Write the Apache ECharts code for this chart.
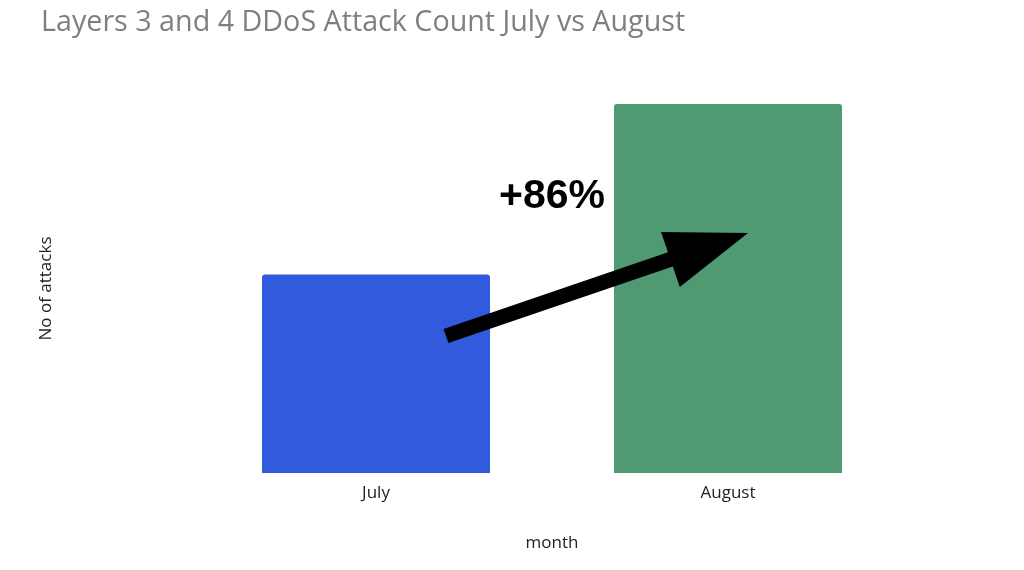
<!DOCTYPE html>
<html>
<head>
<meta charset="utf-8">
<script src="https://cdn.jsdelivr.net/npm/echarts@6/dist/echarts.min.js"></script>
<style>
  html, body { margin: 0; padding: 0; background: #fff; }
  #main { width: 1024px; height: 570px; }
</style>
</head>
<body>
<div id="main"></div>
<script>
// data
var months = ['July', 'August'];
var attacks = [100, 186];
var barColors = ['#325ADC', '#4F9A72'];

var chart = echarts.init(document.getElementById('main'));

// arrow shape (annotation), pixel points
function arrowPoints(x1, y1, x2, y2, shaft, headLen, headW) {
    var dx = x2 - x1, dy = y2 - y1;
    var len = Math.sqrt(dx * dx + dy * dy);
    var ux = dx / len, uy = dy / len;
    var nx = -uy, ny = ux;
    var bx = x2 - ux * headLen, by = y2 - uy * headLen;
    var s = shaft / 2, h = headW / 2;
    return [
        [x1 + nx * s, y1 + ny * s],
        [bx + nx * s, by + ny * s],
        [bx + nx * h, by + ny * h],
        [x2, y2],
        [bx - nx * h, by - ny * h],
        [bx - nx * s, by - ny * s],
        [x1 - nx * s, y1 - ny * s]
    ];
}

var option = {
    backgroundColor: '#fff',
    title: {
        text: 'Layers 3 and 4 DDoS Attack Count July vs August',
        left: 36,
        top: 3,
        textStyle: {
            color: '#7f7f7f',
            fontSize: 28.7,
            fontWeight: 'normal',
            fontFamily: 'Open Sans'
        }
    },
    grid: { left: 200, right: 120, top: 104, bottom: 97 },
    xAxis: {
        type: 'category',
        data: months,
        name: 'month',
        nameLocation: 'middle',
        nameGap: 62,
        nameTextStyle: { color: '#222', fontSize: 17, fontFamily: 'Open Sans' },
        axisLine: { show: false },
        axisTick: { show: false },
        axisLabel: { color: '#222', fontSize: 17, fontFamily: 'Open Sans', margin: 12 }
    },
    yAxis: {
        type: 'value',
        min: 0,
        max: 186,
        name: 'No of attacks',
        nameLocation: 'middle',
        nameGap: 145,
        nameTextStyle: { color: '#222', fontSize: 17, fontFamily: 'Open Sans' },
        axisLine: { show: false },
        axisTick: { show: false },
        axisLabel: { show: false },
        splitLine: { show: false }
    },
    series: [{
        type: 'bar',
        barWidth: 228,
        data: attacks.map(function (v, i) {
            return { value: v, itemStyle: { color: barColors[i] } };
        }),
        itemStyle: { borderRadius: [3, 3, 0, 0] }
    }],
    graphic: [
        {
            type: 'polygon',
            shape: { points: arrowPoints(446, 336, 748, 233, 15, 82, 58) },
            style: { fill: '#000' },
            z: 100
        },
        {
            type: 'text',
            left: 499,
            top: 176,
            style: {
                text: '+86%',
                fill: '#000',
                font: 'bold 41px "Liberation Sans", Arial, sans-serif'
            },
            z: 100
        }
    ]
};

chart.setOption(option);
</script>
</body>
</html>
